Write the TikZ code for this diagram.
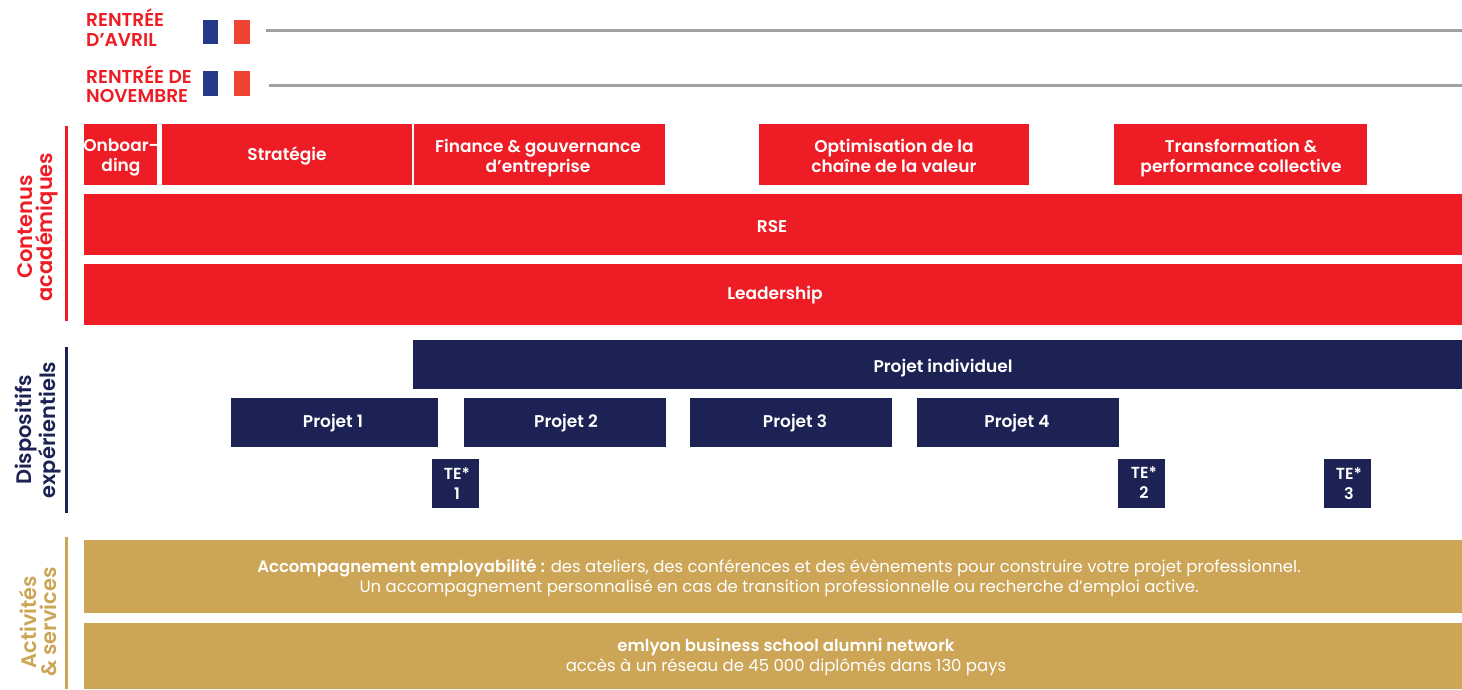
\documentclass[tikz,border=0pt]{standalone}
\usepackage{fontspec}
\setmainfont{Poppins}
\newfontfamily\psemi{Poppins SemiBold}
\newfontfamily\pmed{Poppins Medium}
\definecolor{cred}{HTML}{EE1D25}
\definecolor{cnavy}{HTML}{1C2253}
\definecolor{cgold}{HTML}{CCA557}
\definecolor{cgray}{HTML}{A0A0A5}
\definecolor{fblue}{HTML}{253A8A}
\definecolor{fred}{HTML}{EF4433}
\tikzset{
  lab/.style={inner sep=0pt,align=center,text=white,font=\psemi\fontsize{17}{20}\selectfont},
  gl/.style={inner sep=0pt,align=center,text=white,font=\fontsize{16.5}{20.5}\selectfont},
  te/.style={lab,font=\psemi\fontsize{16}{20}\selectfont},
  side/.style={inner sep=0pt,align=center,rotate=90,font=\psemi\fontsize{21}{20.5}\selectfont},
  rent/.style={inner sep=0pt,anchor=west,align=left,text=cred,font=\psemi\fontsize{18.6}{19.5}\selectfont},
  rule/.style={draw=cgray,line width=2.5pt}
}
\begin{document}
\begin{tikzpicture}[x=1pt,y=-1pt]
\useasboundingbox (0,0) rectangle (1462,689);
% start labels and flags
\node[rent] (ra) at (86,27.5) {RENTRÉE\\D’AVRIL};
\node[rent] (rn) at (86,84) {RENTRÉE DE\\NOVEMBRE};
\fill[fblue] (203,20) rectangle (218,44);
\fill[fred] (234,20) rectangle (250,44);
\fill[fblue] (203,71) rectangle (218,96);
\fill[fred] (234,71) rectangle (250,96);
\coordinate (la) at (266,30.5); \coordinate (lae) at (1462,30.5);
\coordinate (lb) at (268.5,85.5); \coordinate (lbe) at (1462,85.5);
\draw[rule] (la) -- (lae);
\draw[rule] (lb) -- (lbe);
% side bars
\fill[cred] (65,126) rectangle (68,321);
\fill[cnavy] (65,347) rectangle (68,513);
\fill[cgold] (65,537) rectangle (68,689);
\node[side,text=cred] (s1) at (38,227) {Contenus\\académiques};
\node[side,text=cnavy] (s2) at (38,430) {Dispositifs\\expérientiels};
\node[side,text=cgold] (s3) at (38,622) {Activités\\\& services};
% red
\fill[cred] (84,124) rectangle (157,185);
\fill[cred] (162,124) rectangle (412,185);
\fill[cred] (414,124) rectangle (665,185);
\fill[cred] (759,124) rectangle (1029,185);
\fill[cred] (1114,124) rectangle (1367,185);
\fill[cred] (84,194) rectangle (1462,255);
\fill[cred] (84,264) rectangle (1462,325);
\node[lab] (t1) at (121,158) {Onboar-\\ding};
\node[lab] (t2) at (287,155.5) {Stratégie};
\node[lab] (t3) at (538,158) {Finance \& gouvernance\\d’entreprise};
\node[lab] (t4) at (894,156) {Optimisation de la\\chaîne de la valeur};
\node[lab] (t5) at (1241,158) {Transformation \&\\performance collective};
\node[lab] (t6) at (772,226.5) {RSE};
\node[lab] (t7) at (775,295) {Leadership};
% navy
\fill[cnavy] (413,340) rectangle (1462,389);
\fill[cnavy] (231,398) rectangle (438,447);
\fill[cnavy] (464,398) rectangle (666,447);
\fill[cnavy] (690,398) rectangle (892,447);
\fill[cnavy] (917,398) rectangle (1119,447);
\fill[cnavy] (432,459) rectangle (479,508);
\fill[cnavy] (1118,459) rectangle (1165,508);
\fill[cnavy] (1324,459) rectangle (1371,508);
\node[lab] (p0) at (943,368) {Projet individuel};
\node[lab] (p1) at (333,423.5) {Projet 1};
\node[lab] (p2) at (566,423.5) {Projet 2};
\node[lab] (p3) at (795,423.5) {Projet 3};
\node[lab] (p4) at (1017,423.5) {Projet 4};
\node[te] (e1) at (457,484) {TE*\\1};
\node[te] (e2) at (1144,483) {TE*\\2};
\node[te] (e3) at (1349,484) {TE*\\3};
% gold
\fill[cgold] (84,540) rectangle (1462,613);
\fill[cgold] (84,623) rectangle (1462,689);
\node[gl] (g1) at (779,578) {{\psemi Accompagnement employabilité :} des ateliers, des conférences et des évènements pour construire votre projet professionnel.\\Un accompagnement personnalisé en cas de transition professionnelle ou recherche d’emploi active.};
\node[gl] (g2) at (786,657) {{\psemi emlyon business school alumni network}\\accès à un réseau de 45 000 diplômés dans 130 pays};
\end{tikzpicture}
\end{document}
